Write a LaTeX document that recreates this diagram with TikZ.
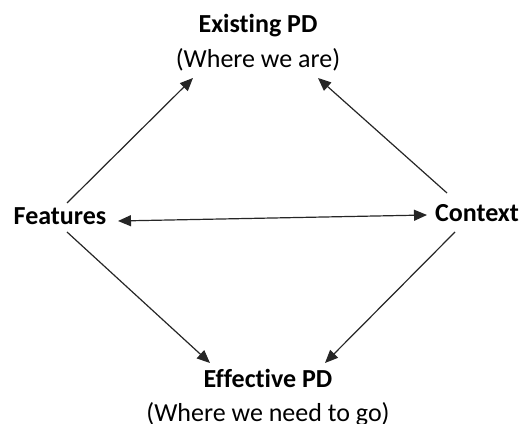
\documentclass[tikz,border=0pt]{standalone}
\usepackage{fontspec}
\setmainfont{Carlito}[RawFeature=-liga]
\usetikzlibrary{arrows.meta}
\begin{document}
\begin{tikzpicture}[x=1pt,y=1pt,
  lbl/.style={inner sep=0pt,anchor=base,font=\fontsize{26}{30}\selectfont\bfseries},
  sub/.style={inner sep=0pt,anchor=base,font=\fontsize{26}{30}\selectfont},
  tip/.style={Triangle[length=13pt,width=11pt]},
  link/.style={line width=1.2pt,draw=black!85,-{Triangle[length=13pt,width=11pt]}},
  both/.style={line width=1.2pt,draw=black!85,{Triangle[length=13pt,width=11pt]}-{Triangle[length=13pt,width=11pt]}}]
\useasboundingbox (0,0) rectangle (527,423);
% labels
\node[lbl] (existing) at (258,390) {Existing PD};
\node[sub] (existingsub) at (258,355) {(Where we are)};
\node[lbl] (features) at (60,198) {Features};
\node[lbl] (context) at (477,201) {Context};
\node[lbl] (effective) at (268,36) {Effective PD};
\node[sub] (effectivesub) at (268,2) {(Where we need to go)};
% connector end points
\coordinate (fNE) at (67,220);
\coordinate (fSE) at (67,191);
\coordinate (cNW) at (447,230);
\coordinate (cSW) at (455,191);
\coordinate (eSW) at (193,345);
\coordinate (eSE) at (318,345);
\coordinate (dNW) at (210,60);
\coordinate (dNE) at (325,60);
\coordinate (fE) at (118,202);
\coordinate (cW) at (427,208);
% arrows
\draw[link] (fNE) -- (eSW);
\draw[link] (cNW) -- (eSE);
\draw[link] (fSE) -- (dNW);
\draw[link] (cSW) -- (dNE);
\draw[both] (fE) -- (cW);
\end{tikzpicture}
\end{document}
